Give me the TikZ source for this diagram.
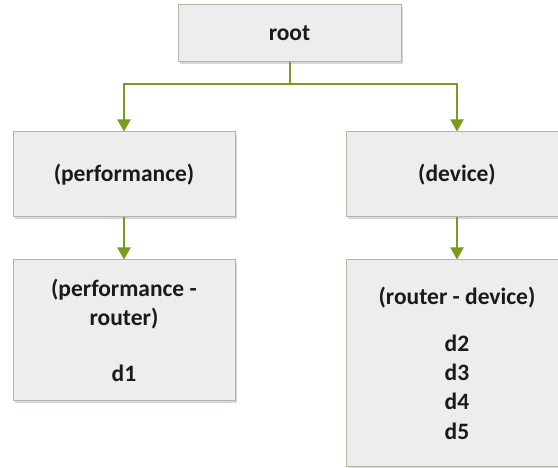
\documentclass[tikz,border=0pt]{standalone}
\usepackage{fontspec}
\setmainfont{Carlito}
\usetikzlibrary{arrows.meta,shadows}
\definecolor{boxfill}{HTML}{EDEDED}
\definecolor{boxline}{HTML}{B3B8A6}
\definecolor{linkgreen}{HTML}{7A9A22}
\definecolor{labeltext}{HTML}{1A1A1A}
\tikzset{
  box/.style={draw=boxline, line width=1pt, fill=boxfill, rectangle,
    inner sep=0pt, align=center, text=labeltext,
    font=\fontsize{23.5}{29.3}\selectfont\bfseries,
    drop shadow={shadow xshift=1.5pt, shadow yshift=-2.5pt, fill=black!45, opacity=0.35}},
  link/.style={draw=linkgreen, line width=2pt, -{Triangle[width=13pt,length=12pt]}},
  trunk/.style={draw=linkgreen, line width=2pt}
}
\begin{document}
\begin{tikzpicture}[x=1pt,y=-1pt]
\path[use as bounding box, clip] (0,0) rectangle (558,468);
\fill[white] (0,0) rectangle (558,468);
% the tree's nodes
\node[box, minimum width=223pt, minimum height=57pt] (root) at (289.5,33.5) {root};
\node[box, minimum width=222pt, minimum height=85pt] (perf) at (124,174.5) {(performance)};
\node[box, minimum width=222pt, minimum height=85pt] (dev) at (457,174.5) {(device)};
\node[box, minimum width=222pt, minimum height=141pt] (perfrouter) at (124,330.5)
  {(performance -\\router)\\[27pt]d1};
\node[box, minimum width=222pt, minimum height=206pt] (routerdev) at (457,363)
  {(router - device)\\[18pt]d2\\d3\\d4\\d5};
% branches
\coordinate (split) at (289.5,84);
\draw[trunk] (root.south) -- (split);
\draw[link] (split) -| (perf.north);
\draw[link] (split) -| (dev.north);
\draw[link] (perf.south) -- (perfrouter.north);
\draw[link] (dev.south) -- (routerdev.north);
\end{tikzpicture}
\end{document}
